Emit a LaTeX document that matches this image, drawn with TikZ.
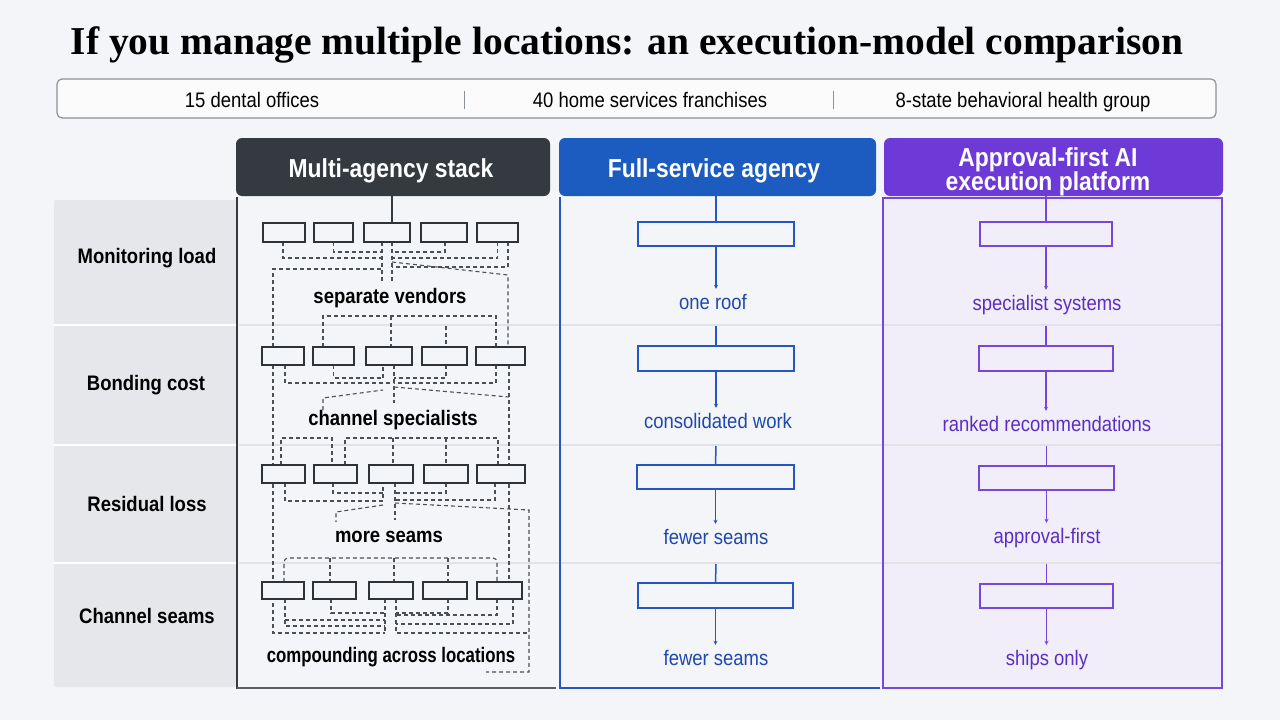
\documentclass[tikz,border=0pt]{standalone}
\usepackage{fontspec}
\setmainfont{Liberation Serif}
\newfontfamily\lsans[FakeStretch=0.88]{Liberation Sans}
\newfontfamily\lsansc[FakeStretch=0.80]{Liberation Sans}
\usetikzlibrary{arrows.meta}
\definecolor{bg}{HTML}{F4F5F8}
\definecolor{lblfill}{HTML}{E5E7EA}
\definecolor{darkhd}{HTML}{343A40}
\definecolor{bottomln}{HTML}{5A5F66}
\definecolor{bluehd}{HTML}{1C5BBF}
\definecolor{blueln}{HTML}{2457C3}
\definecolor{bluetx}{HTML}{1E48AC}
\definecolor{purphd}{HTML}{6D3AD7}
\definecolor{purpln}{HTML}{7647DB}
\definecolor{purptx}{HTML}{5A2EC4}
\definecolor{purpfill}{HTML}{F1EEF9}
\definecolor{dashc}{HTML}{4B5057}
\definecolor{boxc}{HTML}{2E3338}
\definecolor{barb}{HTML}{8C9297}
\definecolor{sepc}{HTML}{E0E2E6}
\pgfdeclarelayer{bgzero}
\pgfdeclarelayer{bgone}
\pgfsetlayers{bgzero,bgone,main}
\newcommand{\bx}[6]{\node[#1, minimum width={(#5-#3)*1pt}, minimum height={(#6-#4)*1pt}] (#2) at ({(#3+#5)/2},{(#4+#6)/2}) {};}
\begin{document}
\begin{tikzpicture}[x=1pt,y=-1pt,
  hdr/.style={rounded corners=6pt, inner sep=0pt},
  hdrtxt/.style={text=white, font=\lsans\bfseries\fontsize{26}{25}\selectfont, anchor=base},
  mbox/.style={draw=boxc, line width=1.5pt, fill=bg, inner sep=0pt, outer sep=0pt},
  bbox/.style={draw=blueln, line width=1.8pt, fill=bg, inner sep=0pt, outer sep=0pt},
  pbox/.style={draw=purpln, line width=1.8pt, fill=purpfill, inner sep=0pt, outer sep=0pt},
  dl/.style={draw=dashc, line width=1.1pt, dash pattern=on 4pt off 3pt},
  rowlbl/.style={font=\lsans\bfseries\fontsize{21}{24}\selectfont, anchor=base, text=black},
  mlbl/.style={font=\lsans\bfseries\fontsize{21}{24}\selectfont, anchor=base, text=black},
  blbl/.style={font=\lsans\fontsize{21}{24}\selectfont, anchor=base, text=bluetx, text height=15pt, text depth=5pt, inner ysep=5pt},
  plbl/.style={font=\lsans\fontsize{21}{24}\selectfont, anchor=base, text=purptx, text height=15pt, text depth=5pt, inner ysep=5pt},
  barlbl/.style={font=\lsans\fontsize{21}{24}\selectfont, anchor=base, text=black},
  bstem/.style={draw=blueln, line width=1.5pt},
  pstem/.style={draw=purpln, line width=1.5pt},
  barr/.style={draw=blueln, line width=1.5pt, -{Stealth[length=4pt,width=4pt]}},
  parr/.style={draw=purpln, line width=1.5pt, -{Stealth[length=4pt,width=4pt]}}
]
\useasboundingbox (0,0) rectangle (1280,720);
\begin{pgfonlayer}{bgzero}
\fill[bg] (0,0) rectangle (1280,720);
\fill[lblfill, rounded corners=2pt] (54,200) rectangle (236,687);
\fill[purpfill] (883,198) rectangle (1222,688);
\draw[white, line width=2.5pt] (54,325) -- (236,325) (54,445) -- (236,445) (54,563) -- (236,563);
\draw[sepc, line width=1.2pt] (239,325) -- (1221,325) (239,445) -- (1221,445) (239,563) -- (1221,563);
\draw[darkhd, line width=2.2pt] (237,197) -- (237,689);
\draw[bottomln, line width=2pt] (237,688) -- (556,688);
\draw[blueln, line width=2pt] (560,197) -- (560,688) -- (880,688);
\draw[purpln, line width=2pt] (883,198) rectangle (1222,688);
\end{pgfonlayer}

% title
\node[font=\bfseries\fontsize{39.5}{44}\selectfont, anchor=base] (title) at (627,54) {If you manage multiple locations: an execution-model comparison};

% top bar
\node[draw=barb, fill=white!60!bg, rounded corners=5pt, line width=1.2pt, minimum width=1159pt, minimum height=39pt, inner sep=0pt] (bar) at (636.5,98.5) {};
\node[barlbl] (t1) at (252,107) {15 dental offices};
\node[barlbl] (t2) at (650,107) {40 home services franchises};
\node[barlbl] (t3) at (1023,107) {8-state behavioral health group};
\draw[barb, line width=1pt] (464,91) -- (464,109) (833,91) -- (833,109);

% headers
\node[hdr, fill=darkhd, minimum width=314pt, minimum height=58pt] (hm) at (393,167) {};
\node[hdr, fill=bluehd, minimum width=317pt, minimum height=58pt] (hf) at (717.5,167) {};
\node[hdr, fill=purphd, minimum width=339pt, minimum height=58pt] (hp) at (1053.5,167) {};
\node[hdrtxt] (hmt) at (391,177) {Multi-agency stack};
\node[hdrtxt] (hft) at (714,177) {Full-service agency};
\node[hdrtxt] (hpt1) at (1048,166) {Approval-first AI};
\node[hdrtxt] (hpt2) at (1048,190) {execution platform};

% row labels
\node[rowlbl] (r1) at (147,263) {Monitoring load};
\node[rowlbl] (r2) at (146,390) {Bonding cost};
\node[rowlbl] (r3) at (147,511) {Residual loss};
\node[rowlbl] (r4) at (147,623) {Channel seams};

% multi-agency boxes
\bx{mbox}{m11}{263}{223}{305}{242}
\bx{mbox}{m12}{314}{223}{353}{242}
\bx{mbox}{m13}{364}{223}{410}{242}
\bx{mbox}{m14}{421}{223}{467}{242}
\bx{mbox}{m15}{477}{223}{518}{242}
\bx{mbox}{m21}{262}{347}{304}{365}
\bx{mbox}{m22}{313}{347}{354}{365}
\bx{mbox}{m23}{366}{347}{412}{365}
\bx{mbox}{m24}{422}{347}{467}{365}
\bx{mbox}{m25}{476}{347}{525}{365}
\bx{mbox}{m31}{262}{465}{305}{483}
\bx{mbox}{m32}{314}{465}{357}{483}
\bx{mbox}{m33}{369}{465}{413}{483}
\bx{mbox}{m34}{424}{465}{468}{483}
\bx{mbox}{m35}{477}{465}{525}{483}
\bx{mbox}{m41}{262}{582}{304}{599}
\bx{mbox}{m42}{313}{582}{356}{599}
\bx{mbox}{m43}{369}{582}{413}{599}
\bx{mbox}{m44}{423}{582}{467}{599}
\bx{mbox}{m45}{477}{582}{522}{599}

\draw[darkhd, line width=1.6pt] ([xshift=5pt]m13.north |- hm.south) -- ([xshift=5pt]m13.north);

% multi-agency labels
\node[mlbl] (ml1) at (390,303) {separate vendors};
\node[mlbl] (ml2) at (393,425) {channel specialists};
\node[mlbl] (ml3) at (389,542) {more seams};
\node[mlbl, font=\lsansc\bfseries\fontsize{21}{24}\selectfont] (ml4) at (391,662) {compounding across locations};

\begin{pgfonlayer}{bgone}
% row1 bottoms
\draw[dl] ([xshift=-1pt]m11.south) |- (382,258);
\draw[dl] (m12.south) |- (382,252);
\draw[dl] ([xshift=-5pt]m13.south) -- ++(0,41);
\draw[dl] ([xshift=5pt]m13.south) -- ++(0,41);
\draw[dl] ([xshift=1pt]m14.south) |- (392,252);
\draw[dl] (m15.south) |- (392,258);
\draw[dl] ([xshift=10.5pt]m15.south) |- (392,267);
\draw[dl] ([xshift=-10pt]m21.north) |- (382,269);
\draw[dl] (392,262) -- (508,275) -- ([xshift=7.5pt]m25.north);
% row2 top
\draw[dl] ([xshift=-10.5pt]m22.north) |- (496,316) -- ([xshift=-4.5pt]m25.north);
\draw[dl] (391,316) -- ([xshift=2pt]m23.north);
\draw[dl] (446,326) -- ([xshift=1.5pt]m24.north);
% row2 bottoms
\draw[dl] ([xshift=-10pt]m21.south) |- (385,633);
\draw[dl] ([xshift=2pt]m21.south) |- (393,383);
\draw[dl] (m22.south) -- ++(0,13) -| ([xshift=-6pt]m23.south);
\draw[dl] ([xshift=5pt]m23.south) -- ++(0,38);
\draw[dl] ([xshift=1.5pt]m24.south) |- (394,378);
\draw[dl] ([xshift=-4.5pt]m25.south) |- (394,383);
\draw[dl] ([xshift=8.5pt]m25.south) -- ([xshift=9.5pt]m45.north);
\draw[dl] (394,387) -- (509,397);
\draw[dl] (323,410) -- (323,398) -- (383,390);
% row3 top
\draw[dl] ([xshift=-2.5pt]m31.north) -- ++(0,-27) -| ([xshift=-3.5pt]m32.north);
\draw[dl] ([xshift=9.5pt]m32.north) -- ++(0,-27) -| ([xshift=-3pt]m35.north);
\draw[dl] (393,438) -- ([xshift=2pt]m33.north);
\draw[dl] (446,438) -- (m34.north);
% row3 bottoms
\draw[dl] ([xshift=1.5pt]m31.south) -- ++(0,18) -| ([xshift=-8pt]m33.south);
\draw[dl] ([xshift=-2.5pt]m32.south) |- (383,493);
\draw[dl] ([xshift=4pt]m33.south) -- ++(0,37);
\draw[dl] (m34.south) |- (395,493);
\draw[dl] ([xshift=-6pt]m35.south) |- (395,500);
\draw[dl] (395,503) -- (529,510) -- (529,672) -- (486,672);
\draw[dl] (383,505) -- (336,512) -- (336,522);
% row4 top
\draw[dl, rounded corners=4pt] ([xshift=1pt]m41.north) -- ++(0,-24) -| ([xshift=-2.5pt]m45.north);
\draw[dl] (330,558) -- ([xshift=-4.5pt]m42.north);
\draw[dl] (394,558) -- ([xshift=3pt]m43.north);
\draw[dl] (448,558) -- ([xshift=3pt]m44.north);
% row4 bottoms
\draw[dl] ([xshift=2pt]m41.south) |- (385,626);
\draw[dl] (285,620) -- (385,620);
\draw[dl] ([xshift=-3.5pt]m42.south) |- (385,613);
\draw[dl] ([xshift=-6pt]m43.south) -- ++(0,34);
\draw[dl] ([xshift=5pt]m43.south) |- (529,633);
\draw[dl] ([xshift=3pt]m44.south) |- (396,613);
\draw[dl] ([xshift=-2.5pt]m45.south) |- (396,615);
\draw[dl] ([xshift=13.5pt]m45.south) |- (396,624);
\end{pgfonlayer}

% full-service column
\bx{bbox}{bf1}{638}{222}{794}{246}
\bx{bbox}{bf2}{638}{346}{794}{371}
\bx{bbox}{bf3}{637}{465}{794}{489}
\bx{bbox}{bf4}{638}{583}{793}{608}
\coordinate (bs2) at (716,326);
\coordinate (bs3) at (716,446);
\coordinate (bs4) at (716,564);
\node[blbl] (lf1) at (713,309) {one roof};
\node[blbl] (lf2) at (718,428) {consolidated work};
\node[blbl] (lf3) at (716,544) {fewer seams};
\node[blbl] (lf4) at (716,665) {fewer seams};
\draw[bstem] (bf1.north |- hf.south) -- (bf1.north);
\draw[bstem] (bs2) -- (bf2.north);
\draw[bstem] (bs3) -- (bf3.north);
\draw[bstem] (bs4) -- (bf4.north);
\draw[barr] (bf1.south) -- (bf1.south |- lf1.north);
\draw[barr] (bf2.south) -- (bf2.south |- lf2.north);
\draw[barr] (bf3.south) -- (bf3.south |- lf3.north);
\draw[barr] (bf4.south) -- (bf4.south |- lf4.north);

% approval-first column
\bx{pbox}{bp1}{980}{222}{1112}{246}
\bx{pbox}{bp2}{979}{346}{1113}{371}
\bx{pbox}{bp3}{979}{466}{1114}{490}
\bx{pbox}{bp4}{980}{584}{1113}{608}
\coordinate (ps2) at (1046,326);
\coordinate (ps3) at (1046.5,446);
\coordinate (ps4) at (1046.5,564);
\node[plbl] (lp1) at (1047,310) {specialist systems};
\node[plbl] (lp2) at (1047,431) {ranked recommendations};
\node[plbl] (lp3) at (1047,543) {approval-first};
\node[plbl] (lp4) at (1047,665) {ships only};
\draw[pstem] (bp1.north |- hp.south) -- (bp1.north);
\draw[pstem] (ps2) -- (bp2.north);
\draw[pstem] (ps3) -- (bp3.north);
\draw[pstem] (ps4) -- (bp4.north);
\draw[parr] (bp1.south) -- (bp1.south |- lp1.north);
\draw[parr] (bp2.south) -- (bp2.south |- lp2.north);
\draw[parr] (bp3.south) -- (bp3.south |- lp3.north);
\draw[parr] (bp4.south) -- (bp4.south |- lp4.north);
\end{tikzpicture}
\end{document}
